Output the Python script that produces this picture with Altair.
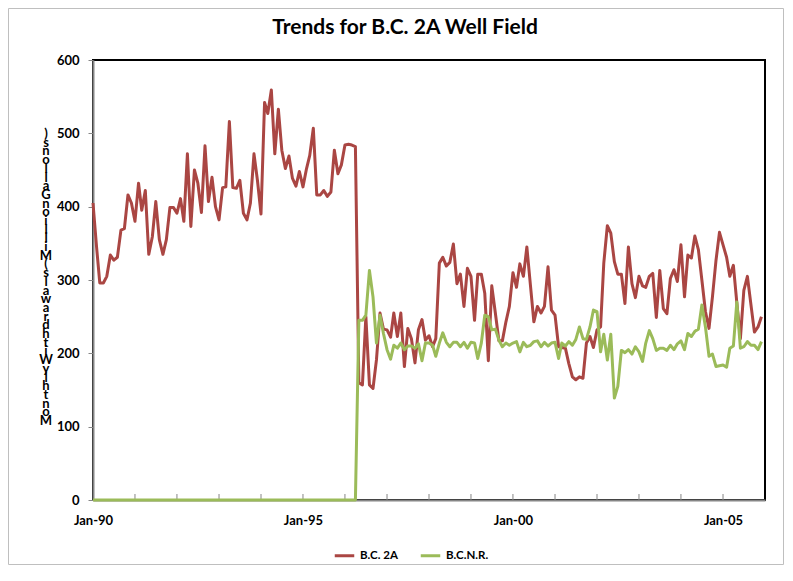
import altair as alt
import pandas as pd

# ---- data (monthly, Jan-1990 .. Dec-2005) ----
months = pd.date_range("1990-01-01", periods=192, freq="MS").strftime("%Y-%m-%d").tolist()

bc2a = [
    405, 345, 296, 296, 305, 334, 327, 331, 368, 370,
    416, 405, 380, 432, 395, 422, 335, 359, 407, 355,
    335, 355, 399, 399, 391, 411, 380, 472, 373, 450,
    432, 392, 483, 407, 440, 400, 382, 426, 427, 516,
    426, 425, 436, 391, 382, 405, 472, 436, 390, 542,
    527, 559, 472, 533, 477, 452, 469, 439, 428, 448,
    427, 452, 470, 507, 416, 416, 422, 414, 420, 477,
    445, 457, 484, 485, 484, 482,
    160,
    157, 250, 157, 152, 191, 255, 233, 232, 222, 255,
    223, 255, 182, 234, 220, 187, 232, 246, 218, 224,
    209, 220, 323, 331, 319, 324, 349, 295, 308, 264,
    316, 305, 245, 308, 308, 282, 190, 292, 255, 217,
    217, 243, 264, 310, 290, 322, 305, 345, 293, 243,
    264, 255, 264, 318, 259, 252, 209, 208, 207, 186,
    168, 164, 168, 166, 214, 223, 208, 232, 236, 323,
    374, 364, 325, 308, 308, 268, 345, 295, 276, 305,
    292, 290, 305, 309, 249, 313, 261, 254, 302, 314,
    298, 348, 277, 334, 330, 360, 341, 300, 257, 234,
    277, 327, 365, 348, 331, 305, 320, 269, 220, 286,
    305, 266, 229, 236, 250,
]

bcnr = [0] * 76 + [
    245, 245, 252, 313, 277, 214, 252, 227, 205, 192,
    211, 207, 214, 205, 210, 210, 207, 213, 190, 214,
    214, 211, 196, 214, 228, 215, 209, 215, 215, 209,
    215, 207, 215, 214, 193, 214, 252, 250, 232, 233,
    218, 209, 214, 211, 214, 216, 202, 215, 209, 211,
    216, 217, 209, 215, 210, 214, 215, 193, 214, 210,
    216, 211, 219, 236, 220, 219, 236, 259, 257, 202,
    226, 191, 226, 139, 155, 204, 201, 205, 199, 209,
    202, 189, 214, 231, 220, 204, 207, 207, 204, 211,
    205, 213, 217, 205, 227, 223, 230, 233, 266, 236,
    196, 199, 182, 183, 184, 181, 207, 210, 270, 207,
    209, 216, 211, 211, 205, 216,
]

series_names = ["B.C. 2A", "B.C.N.R."]
series_colors = ["#AA4643", "#9BBB59"]
y_ticks = [0, 100, 200, 300, 400, 500, 600]
label_years = [1990, 1995, 2000, 2005]
tick_years = list(range(1991, 2006))
chart_title = "Trends for B.C. 2A Well Field"
y_title = "Monthly Withdrawals (Million Gallons)"

FONT = "Lato"

df = pd.DataFrame({
    "date": months * 2,
    "value": bc2a + bcnr,
    "series": [series_names[0]] * len(bc2a) + [series_names[1]] * len(bcnr),
})

ticks_df = pd.DataFrame({"date": [f"{y}-01-01" for y in tick_years]})

x_scale = alt.Scale(
    type="utc",
    domain=[alt.DateTime(year=1990, month=1, date=1, utc=True),
            alt.DateTime(year=2006, month=1, date=1, utc=True)],
)

lines = alt.Chart(df).mark_line(strokeWidth=3, strokeJoin="round").encode(
    x=alt.X("date:T", scale=x_scale,
            axis=alt.Axis(values=[alt.DateTime(year=y, month=1, date=1, utc=True) for y in label_years],
                          format="%b-%y", ticks=False, grid=False, title=None,
                          domainColor="#868686", domainWidth=2, labelFlush=False,
                          labelFont=FONT, labelFontSize=13, labelFontWeight="bold",
                          labelColor="black", labelPadding=14)),
    y=alt.Y("value:Q", scale=alt.Scale(domain=[0, 600], nice=False),
            axis=alt.Axis(values=y_ticks, grid=False, title=None,
                          tickSize=5, tickColor="#868686", tickWidth=1,
                          domainColor="#868686", domainWidth=2, labelFlush=False,
                          labelFont=FONT, labelFontSize=13, labelFontWeight="bold",
                          labelColor="black", labelPadding=9)),
    color=alt.Color("series:N",
                    scale=alt.Scale(domain=series_names, range=series_colors),
                    legend=alt.Legend(orient="none", legendX=240, legendY=484,
                                      direction="horizontal", title=None,
                                      symbolType="stroke", symbolSize=380,
                                      symbolStrokeWidth=3, labelFont=FONT,
                                      labelFontSize=11.5, labelFontWeight="bold",
                                      labelColor="black", columnPadding=16,
                                      labelOffset=4)),
)

xticks = alt.Chart(ticks_df).mark_rule(color="#868686", strokeWidth=1).encode(
    x=alt.X("date:T", scale=x_scale),
    y=alt.value(440),
    y2=alt.value(434),
)

title_df = pd.DataFrame({"t": [chart_title]})
title = alt.Chart(title_df).mark_text(
    font=FONT, fontSize=21, fontWeight="bold", color="black",
    align="center", baseline="middle",
).encode(text="t:N", x=alt.value(312), y=alt.value(-32))

ytitle_df = pd.DataFrame({"t": ["\n".join(list(y_title)[::-1])]})
ytitle = alt.Chart(ytitle_df).mark_text(
    font=FONT, fontSize=13, fontWeight="bold", color="black",
    align="center", baseline="top", lineBreak="\n", lineHeight=8.7,
).encode(text="t:N", x=alt.value(-47), y=alt.value(68))

border_df = pd.DataFrame({"b": [1]})
border = alt.Chart(border_df).mark_rect(fill=None, stroke="#BFBFBF", strokeWidth=1).encode(
    x=alt.value(-84.5), x2=alt.value(690.5), y=alt.value(-51.5), y2=alt.value(504.5),
)

chart = alt.layer(border, xticks, lines, title, ytitle).properties(
    width=672, height=440,
    autosize=alt.AutoSizeParams(type="none"),
    padding={"left": 85, "top": 52, "right": 20, "bottom": 66},
).configure_view(stroke="black", strokeWidth=2)

chart.save("out.html", embed_options={"renderer": "svg", "actions": False})
